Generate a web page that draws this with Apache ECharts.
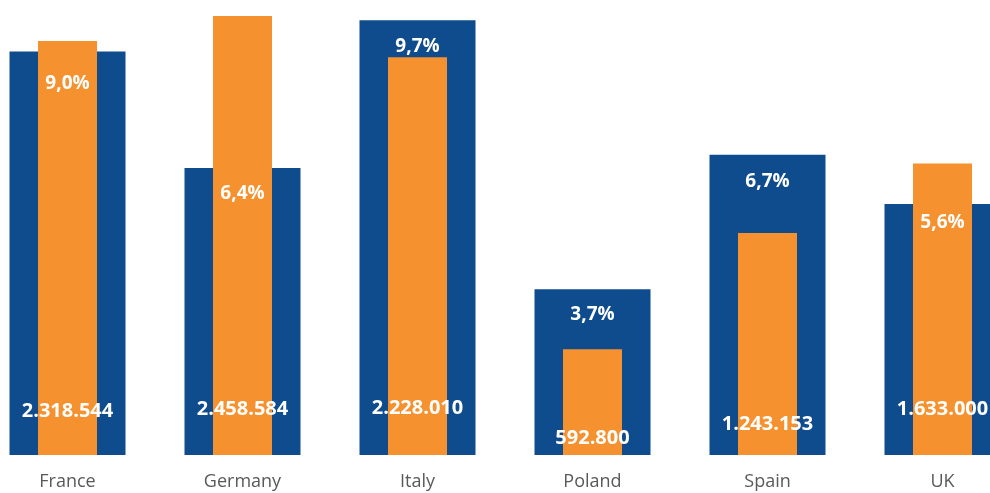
<!DOCTYPE html>
<html>
<head>
<meta charset="utf-8">
<script src="https://cdn.jsdelivr.net/npm/echarts@6/dist/echarts.min.js"></script>
<style>
html,body{margin:0;padding:0;background:#fff;overflow:hidden;width:990px;height:493px;position:relative;}
#chart{width:1050px;height:493px;position:absolute;left:-20px;top:0;}
</style>
</head>
<body>
<div id="chart"></div>
<script>
var categories = ['France', 'Germany', 'Italy', 'Poland', 'Spain', 'UK'];
var sharePercent = [9.0, 6.4, 9.7, 3.7, 6.7, 5.6];
var volumes = [2318544, 2458584, 2228010, 592800, 1243153, 1633000];

var pctLabelDist = [23, 16, 17, 16, 17, 9];
var volLabelDist = [34, 36, 37, 7, 21, 36];

function fmtThousands(v) {
  return String(v).replace(/\B(?=(\d{3})+(?!\d))/g, '.');
}

var chart = echarts.init(document.getElementById('chart'), null, {renderer: 'canvas'});
chart.setOption({
  animation: false,
  backgroundColor: '#ffffff',
  grid: {left: 0, right: 0, top: 0, bottom: 38, containLabel: false},
  xAxis: [
    {type: 'category', data: categories,
     axisLine: {show: false}, axisTick: {show: false},
     axisLabel: {color: '#595959', fontSize: 18, fontFamily: 'Open Sans', margin: 18}},
    {type: 'category', data: categories, show: false},
    {type: 'category', data: categories, show: false}
  ],
  yAxis: [
    {type: 'value', min: 0, max: 10.15, show: false, splitLine: {show: false}},
    {type: 'value', min: 0, max: 2548200, show: false, splitLine: {show: false}}
  ],
  series: [
    {
      type: 'bar', xAxisIndex: 0, yAxisIndex: 0, barWidth: 116,
      itemStyle: {color: '#0F4C8E'},
      data: sharePercent,
      z: 2
    },
    {
      type: 'bar', xAxisIndex: 1, yAxisIndex: 1, barWidth: 59,
      itemStyle: {color: '#F5922F'},
      data: volumes.map(function (v, i) {
        return {value: v, label: {distance: volLabelDist[i]}};
      }),
      label: {
        show: true, position: 'insideBottom', color: '#ffffff',
        fontFamily: 'Open Sans', fontWeight: 'bold', fontSize: 20,
        formatter: function (p) { return fmtThousands(p.value); }
      },
      z: 3
    },
    {
      type: 'bar', xAxisIndex: 2, yAxisIndex: 0, barWidth: 116,
      itemStyle: {color: 'rgba(0,0,0,0)'},
      silent: true,
      data: sharePercent.map(function (v, i) {
        return {value: v, label: {distance: pctLabelDist[i]}};
      }),
      label: {
        show: true, position: 'insideTop', color: '#ffffff',
        fontFamily: 'Open Sans', fontWeight: 'bold', fontSize: 19,
        formatter: function (p) { return p.value.toFixed(1).replace('.', ',') + '%'; }
      },
      z: 5
    }
  ]
});
</script>
</body>
</html>
